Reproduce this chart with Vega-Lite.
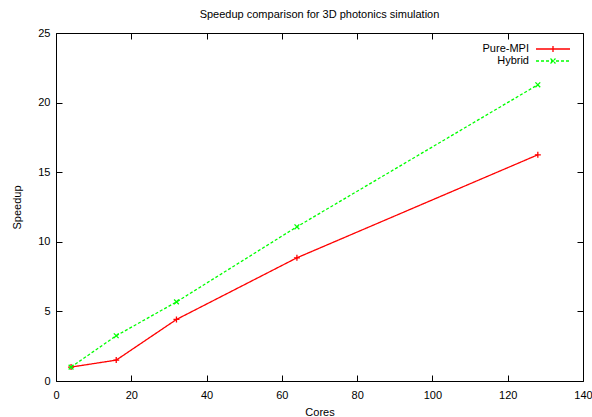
{
  "$schema": "https://vega.github.io/schema/vega-lite/v6.json",
  "width": 527,
  "height": 348,
  "autosize": "none",
  "padding": {"left": 56, "top": 33, "right": 9, "bottom": 36},
  "background": "white",
  "title": {
    "text": "Speedup comparison for 3D photonics simulation",
    "font": "Liberation Sans",
    "fontSize": 11,
    "fontWeight": "normal",
    "color": "black",
    "offset": 7
  },
  "config": {
    "view": {"stroke": "black", "strokeWidth": 1},
    "axis": {
      "labelFont": "Liberation Sans",
      "labelFontSize": 11,
      "labelColor": "black",
      "labelFlush": false,
      "titleFont": "Liberation Sans",
      "titleFontSize": 11,
      "titleFontWeight": "normal",
      "titleColor": "black",
      "grid": false,
      "domain": false,
      "tickColor": "black",
      "tickSize": 6,
      "offset": -6
    },
    "legend": {
      "labelFont": "Liberation Sans",
      "labelFontSize": 11,
      "labelColor": "black"
    }
  },
  "data": {
    "values": [
      {"cores": 4, "speedup": 1.0, "series": "Pure-MPI"},
      {"cores": 16, "speedup": 1.5, "series": "Pure-MPI"},
      {"cores": 32, "speedup": 4.42, "series": "Pure-MPI"},
      {"cores": 64, "speedup": 8.85, "series": "Pure-MPI"},
      {"cores": 128, "speedup": 16.25, "series": "Pure-MPI"},
      {"cores": 4, "speedup": 1.0, "series": "Hybrid"},
      {"cores": 16, "speedup": 3.25, "series": "Hybrid"},
      {"cores": 32, "speedup": 5.68, "series": "Hybrid"},
      {"cores": 64, "speedup": 11.08, "series": "Hybrid"},
      {"cores": 128, "speedup": 21.28, "series": "Hybrid"}
    ]
  },
  "layer": [
    {
      "mark": {"type": "line", "strokeWidth": 1.3},
      "encoding": {
        "x": {
          "field": "cores", "type": "quantitative",
          "scale": {"domain": [0, 140], "nice": false},
          "axis": {"orient": "bottom", "values": [0, 20, 40, 60, 80, 100, 120, 140], "title": "Cores", "labelPadding": 8, "titleY": 31}
        },
        "y": {
          "field": "speedup", "type": "quantitative",
          "scale": {"domain": [0, 25], "nice": false},
          "axis": {"orient": "left", "values": [0, 5, 10, 15, 20, 25], "title": "Speedup", "labelPadding": 6, "titleX": -40}
        },
        "color": {
          "field": "series", "type": "nominal",
          "scale": {"domain": ["Pure-MPI", "Hybrid"], "range": ["#ff0000", "#00ff00"]},
          "legend": {
            "title": null,
            "orient": "top-right",
            "offset": 10,
            "padding": 0,
            "symbolType": "stroke",
            "symbolSize": 100,
            "symbolStrokeWidth": 1.3,
            "rowPadding": -4,
            "labelOffset": 6,
            "encode": {
              "symbols": {
                "update": {
                  "shape": {"signal": "datum.value === 'Hybrid' ? 'M-3.4,0L3.4,0M-0.5,-0.5L0.5,0.5M-0.5,0.5L0.5,-0.5' : 'M-3.4,0L3.4,0M0,-0.6L0,0.6'"},
                  "strokeDash": {"signal": "datum.value === 'Hybrid' ? [3, 2] : []"}
                }
              },
              "labels": {
                "update": {
                  "align": {"value": "right"},
                  "dx": {"value": -36}
                }
              }
            }
          }
        },
        "strokeDash": {
          "field": "series", "type": "nominal",
          "scale": {"domain": ["Pure-MPI", "Hybrid"], "range": [[1, 0], [3, 2]]},
          "legend": null
        }
      }
    },
    {
      "transform": [{"filter": "datum.series === 'Pure-MPI'"}],
      "mark": {"type": "point", "filled": false, "strokeWidth": 1.3, "size": 36, "opacity": 1, "color": "#ff0000", "shape": "M-1,0L1,0M0,-1L0,1"},
      "encoding": {
        "x": {
          "field": "cores", "type": "quantitative",
          "axis": {"orient": "top", "values": [0, 20, 40, 60, 80, 100, 120, 140], "labels": false, "title": null}
        },
        "y": {
          "field": "speedup", "type": "quantitative",
          "axis": {"orient": "right", "values": [0, 5, 10, 15, 20, 25], "labels": false, "title": null}
        }
      }
    },
    {
      "transform": [{"filter": "datum.series === 'Hybrid'"}],
      "mark": {"type": "point", "filled": false, "strokeWidth": 1.3, "size": 36, "opacity": 1, "color": "#00ff00", "shape": "M-0.8,-0.8L0.8,0.8M-0.8,0.8L0.8,-0.8"},
      "encoding": {
        "x": {"field": "cores", "type": "quantitative", "axis": null},
        "y": {"field": "speedup", "type": "quantitative", "axis": null}
      }
    }
  ]
}
